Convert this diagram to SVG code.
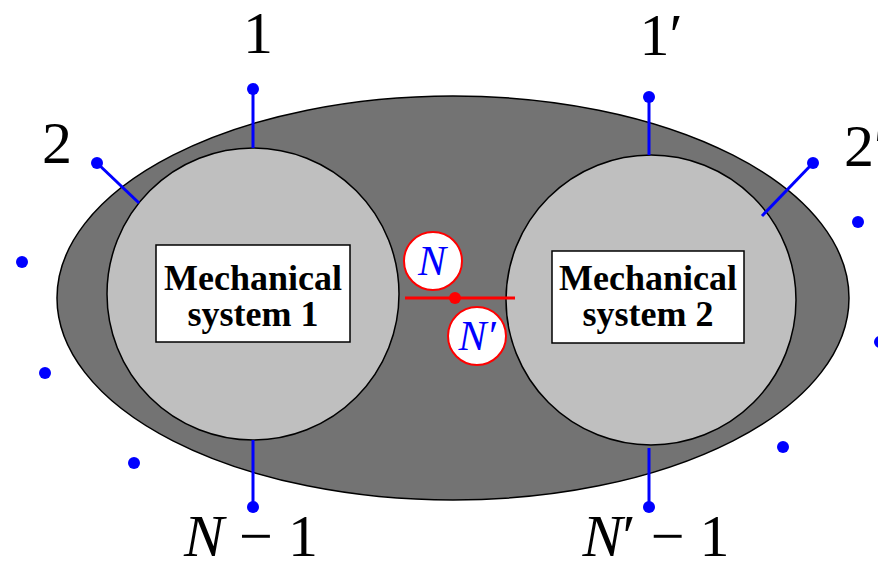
<svg xmlns="http://www.w3.org/2000/svg" width="878" height="564" viewBox="0 0 878 564">
<style>
.lbl{font-family:"Liberation Serif","DejaVu Serif",serif;font-size:60px;fill:#000}
.it{font-style:italic}
.box{fill:#fff;stroke:#000;stroke-width:1.5}
.bt{font-family:"Liberation Serif","DejaVu Serif",serif;font-size:36px;font-weight:bold;text-anchor:middle;fill:#000}
.sys{fill:#bfbfbf;stroke:#000;stroke-width:1.5}
.pin{stroke:#0000ff;stroke-width:3;fill:none}
.dot{fill:#0000ff}
.rc{fill:#fff;stroke:#ff0000;stroke-width:2}
.nl{font-family:"Liberation Serif","DejaVu Serif",serif;font-size:42px;font-style:italic;fill:#0000ff;text-anchor:middle}
</style>
<rect width="878" height="564" fill="#fff"/>
<g id="outer"><ellipse cx="453" cy="298" rx="396" ry="202" fill="#737373" stroke="#000" stroke-width="1.5"/></g>
<g id="system1">
<circle class="sys" cx="253" cy="294" r="146"/>
<rect class="box" x="156" y="245" width="194" height="97"/>
<text class="bt" x="253" y="290">Mechanical</text>
<text class="bt" x="253" y="326">system 1</text>
</g>
<g id="system2">
<circle class="sys" cx="651" cy="300" r="145"/>
<rect class="box" x="552" y="251" width="192" height="92"/>
<text class="bt" x="648" y="290">Mechanical</text>
<text class="bt" x="648" y="326">system 2</text>
</g>
<g id="connectors">
<line class="pin" x1="253" y1="89" x2="253" y2="148"/>
<line class="pin" x1="97" y1="163" x2="139" y2="203"/>
<line class="pin" x1="253" y1="440" x2="253" y2="507"/>
<line class="pin" x1="649" y1="97" x2="649" y2="155"/>
<line class="pin" x1="813" y1="163" x2="762" y2="216"/>
<line class="pin" x1="649" y1="448" x2="649" y2="507"/>
<line x1="405" y1="298" x2="515" y2="298" stroke="#ff0000" stroke-width="3"/>
</g>
<g id="dots">
<circle class="dot" cx="253" cy="89" r="6"/>
<circle class="dot" cx="97" cy="163" r="6"/>
<circle class="dot" cx="253" cy="507" r="6"/>
<circle class="dot" cx="649" cy="97" r="6"/>
<circle class="dot" cx="813" cy="163" r="6"/>
<circle class="dot" cx="649" cy="507" r="6"/>
<circle class="dot" cx="22" cy="262" r="6"/>
<circle class="dot" cx="45" cy="373" r="6"/>
<circle class="dot" cx="134" cy="463" r="6"/>
<circle class="dot" cx="858" cy="222" r="6"/>
<circle class="dot" cx="880" cy="342" r="6"/>
<circle class="dot" cx="783" cy="447" r="6"/>
<circle cx="455" cy="298" r="6" fill="#ff0000"/>
</g>
<g id="N">
<circle class="rc" cx="433" cy="261" r="29"/>
<text class="nl" x="432" y="275">N</text>
</g>
<g id="Nprime">
<circle class="rc" cx="477" cy="336" r="29"/>
<text class="nl" x="477" y="350">N′</text>
</g>
<g id="labels">
<text class="lbl" x="258" y="53" text-anchor="middle">1</text>
<text class="lbl" x="57" y="163" text-anchor="middle">2</text>
<text class="lbl" x="661" y="55" text-anchor="middle">1′</text>
<text class="lbl" x="844" y="166">2′</text>
<text class="lbl" x="251" y="556" text-anchor="middle"><tspan class="it">N</tspan> − 1</text>
<text class="lbl" x="656" y="556" text-anchor="middle"><tspan class="it">N</tspan>′ − 1</text>
</g>
</svg>
